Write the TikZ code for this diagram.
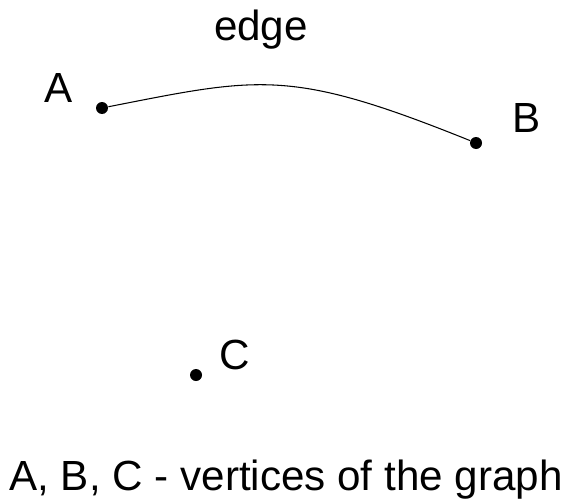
\documentclass[tikz,border=0pt]{standalone}
\usepackage{fontspec}
\setmainfont{Liberation Sans}

\tikzset{every picture/.style={line width=0.6pt}}
\tikzset{
  vertex/.style={circle, fill=black, inner sep=0pt, minimum size=0.24cm},
  vlabel/.style={anchor=base, inner sep=0pt, font=\fontsize{24}{29}\selectfont}
}

\begin{document}
\begin{tikzpicture}[x=0.02cm, y=-0.02cm]
        \useasboundingbox (0,0) rectangle (573,500);
        \node[vertex] (a) at (102,108) {};
        \node[vertex] (b) at (476,143) {};
        \node[vertex] (c) at (196,375) {};
        \node[vlabel] (la) at (59,102) {A};
        \node[vlabel] (lb) at (527,132) {B};
        \node[vlabel] (lc) at (235,369) {C};
        \node[vlabel] (edge) at (261,41) {edge};
        \draw (a) .. controls (260,77) and (290,68) .. (b);
        \node[vlabel] (caption) at (286,490) {A, B, C - vertices of the graph};
    \end{tikzpicture}
\end{document}
